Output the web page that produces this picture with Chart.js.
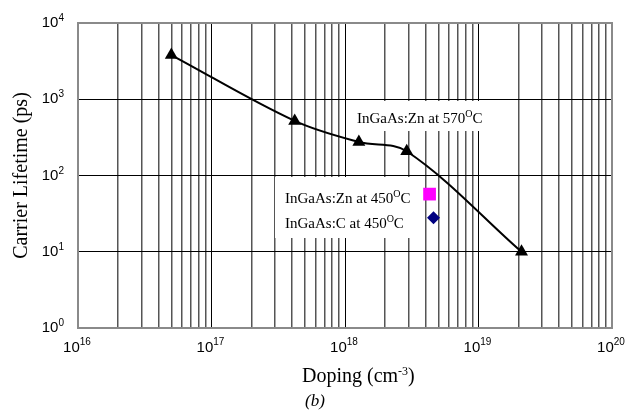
<!DOCTYPE html>
<html>
<head>
<meta charset="utf-8">
<script src="https://cdn.jsdelivr.net/npm/chart.js@4"></script>
<style>
    html, body { margin: 0; padding: 0; background: #fff; }
    #wrap { width: 626px; height: 417px; }
</style>
</head>
<body>
<div id="wrap"><canvas id="lifetimeChart" width="626" height="417"></canvas></div>
<script>
// InGaAs:Zn grown at 570C (triangles + curve)
const dopingZn570 = [5.0e16, 4.2e17, 1.27e18, 2.9e18, 2.1e19]
const lifetimeZn570 = [3800, 520, 275, 208, 10]

// single points grown at 450C
const dopingZn450 = [4.3e18]
const lifetimeZn450 = [57]
const dopingC450 = [4.6e18]
const lifetimeC450 = [28]

// decade exponents used for the tick labels
const xTickExps = [16, 17, 18, 19, 20]
const yTickExps = [0, 1, 2, 3, 4]

const annotations = [
    { box: [350, 101, 137, 30], lines: [['InGaAs:Zn at 570', 'O', 'C', 357, 123]] },
    { box: [275, 177, 137, 61], lines: [['InGaAs:Zn at 450', 'O', 'C', 285, 203],
                                        ['InGaAs:C at 450', 'O', 'C', 285, 228]] }
]

function isDecade(v) {
    const l = Math.log10(v)
    return Math.abs(l - Math.round(l)) < 1e-6
}

function xTickValues() {
    const vals = []
    for (let e = xTickExps[0]; e < xTickExps[xTickExps.length - 1]; e++) {
        for (let m = 1; m <= 9; m++) vals.push(m * Math.pow(10, e))
    }
    vals.push(Math.pow(10, xTickExps[xTickExps.length - 1]))
    return vals
}

const serif = '"Liberation Serif", "Times New Roman", serif'
const sans = '"Liberation Sans", Arial, sans-serif'

// draws "10" with a raised exponent
function drawPow(ctx, e, x, y, align, raise) {
    ctx.font = '15px ' + sans
    const wBase = ctx.measureText('10').width
    ctx.font = '10px ' + sans
    const wExp = ctx.measureText(String(e)).width
    const total = wBase + wExp
    let start = align === 'right' ? x - total : x - total / 2
    ctx.font = '15px ' + sans
    ctx.fillText('10', start, y)
    ctx.font = '10px ' + sans
    ctx.fillText(String(e), start + wBase, y - raise)
}

const boxesPlugin = {
    id: 'boxes',
    beforeDatasetsDraw(chart) {
        const ctx = chart.ctx
        const a = chart.chartArea
        ctx.save()
        ctx.fillStyle = '#fff'
        annotations.forEach(an => {
            ctx.fillRect(an.box[0], an.box[1], an.box[2], an.box[3])
        })
        ctx.fillStyle = '#000'
        ctx.textBaseline = 'alphabetic'
        annotations.forEach(an => {
            an.lines.forEach(([main, sup, tail, x, y]) => {
                ctx.font = '15px ' + serif
                ctx.fillText(main, x, y)
                let cx = x + ctx.measureText(main).width
                ctx.font = '10px ' + serif
                ctx.fillText(sup, cx, y - 6)
                cx += ctx.measureText(sup).width
                ctx.font = '15px ' + serif
                ctx.fillText(tail, cx, y)
            })
        })
        // plot frame
        ctx.strokeStyle = '#8a8a8a'
        ctx.lineWidth = 2
        ctx.strokeRect(a.left, a.top, a.right - a.left, a.bottom - a.top)
        ctx.restore()
    },
    afterDraw(chart) {
        const ctx = chart.ctx
        const a = chart.chartArea
        const xs = chart.scales.x
        const ys = chart.scales.y
        ctx.save()
        ctx.fillStyle = '#000'
        ctx.textAlign = 'left'
        ctx.textBaseline = 'alphabetic'
        xTickExps.forEach(e => {
            drawPow(ctx, e, xs.getPixelForValue(Math.pow(10, e)) - 1, a.bottom + 24, 'center', 7)
        })
        yTickExps.forEach(e => {
            drawPow(ctx, e, a.left - 14, ys.getPixelForValue(Math.pow(10, e)) + 4, 'right', 6)
        })

        // y title
        ctx.save()
        ctx.translate(27, (a.top + a.bottom) / 2)
        ctx.rotate(-Math.PI / 2)
        ctx.font = '20px ' + serif
        ctx.textAlign = 'center'
        ctx.fillText('Carrier Lifetime (ps)', 0, 0)
        ctx.restore()

        // x title with superscript
        ctx.font = '20px ' + serif
        const p1 = 'Doping (cm', p2 = '-3', p3 = ')'
        const w1 = ctx.measureText(p1).width
        const w3 = ctx.measureText(p3).width
        ctx.font = '12px ' + serif
        const w2 = ctx.measureText(p2).width
        let tx = 302
        ctx.font = '20px ' + serif
        ctx.fillText(p1, tx, 382)
        ctx.font = '12px ' + serif
        ctx.fillText(p2, tx + w1, 375)
        ctx.font = '20px ' + serif
        ctx.fillText(p3, tx + w1 + w2, 382)

        ctx.font = 'italic 17px ' + serif
        ctx.fillText('(b)', 305, 406)
        ctx.restore()
    }
}

window.addEventListener('load', function() {
    const ctx = document.getElementById('lifetimeChart').getContext('2d')
    new Chart(ctx, {
        type: 'scatter',
        data: {
            datasets: [{
                label: 'InGaAs:Zn at 570C',
                data: dopingZn570.map((d, i) => ({ x: d, y: lifetimeZn570[i] })),
                showLine: true,
                borderColor: '#000',
                backgroundColor: '#000',
                borderWidth: 2,
                tension: 0.35,
                pointStyle: 'triangle',
                pointRadius: 7.5,
                pointBorderWidth: 0
            }, {
                label: 'InGaAs:Zn at 450C',
                data: dopingZn450.map((d, i) => ({ x: d, y: lifetimeZn450[i] })),
                backgroundColor: '#ff00ff',
                borderColor: '#ff00ff',
                pointStyle: 'rect',
                pointRadius: 9,
                pointBorderWidth: 0
            }, {
                label: 'InGaAs:C at 450C',
                data: dopingC450.map((d, i) => ({ x: d, y: lifetimeC450[i] })),
                backgroundColor: '#000080',
                borderColor: '#000080',
                pointStyle: 'rectRot',
                pointRadius: 6.5,
                pointBorderWidth: 0
            }]
        },
        options: {
            responsive: false,
            animation: false,
            layout: { padding: { left: 78, top: 23, right: 14, bottom: 89 } },
            plugins: {
                legend: { display: false },
                tooltip: { enabled: false }
            },
            scales: {
                x: {
                    type: 'logarithmic',
                    min: 1e16,
                    max: 1e20,
                    afterBuildTicks: scale => {
                        scale.ticks = xTickValues().map(v => ({ value: v }))
                    },
                    ticks: { display: false },
                    border: { display: false },
                    grid: {
                        drawTicks: false,
                        tickLength: 0,
                        color: c => isDecade(c.tick.value) ? '#000' : '#555',
                        lineWidth: c => isDecade(c.tick.value) ? 1 : 1.5
                    }
                },
                y: {
                    type: 'logarithmic',
                    min: 1,
                    max: 1e4,
                    afterBuildTicks: scale => {
                        scale.ticks = yTickExps.map(e => ({ value: Math.pow(10, e) }))
                    },
                    ticks: { display: false },
                    border: { display: false },
                    grid: {
                        drawTicks: false,
                        tickLength: 0,
                        color: '#000',
                        lineWidth: 1
                    }
                }
            }
        },
        plugins: [boxesPlugin]
    })
})
</script>
</body>
</html>
